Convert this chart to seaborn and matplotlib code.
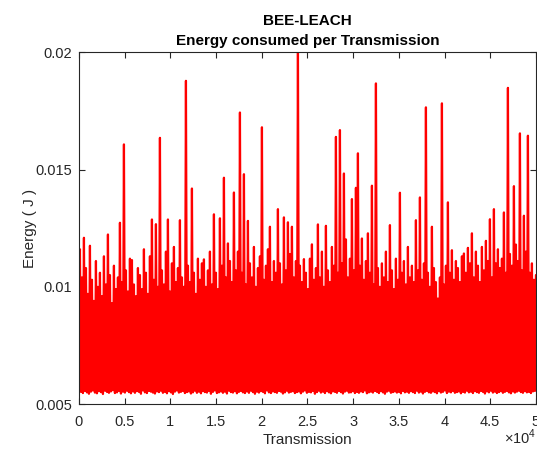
"""BEE-LEACH: energy consumed per transmission (MATLAB-style line plot)."""

import matplotlib

matplotlib.use("Agg")
import matplotlib.pyplot as plt
import numpy as np
import pandas as pd
import seaborn as sns

# Peak (upper) energy of each tooth in the trace, read left to right (J)
peak_energy = [
    0.0116, 0.0104, 0.01209, 0.0108, 0.0097, 0.01175, 0.0103, 0.0094, 0.0111, 0.0100,
    0.0106, 0.0096, 0.0113, 0.0101, 0.01223, 0.0105, 0.0093, 0.0109, 0.0099, 0.0104,
    0.01273, 0.0102, 0.01607, 0.0107, 0.0098, 0.0112, 0.01114, 0.0101, 0.0096, 0.0108,
    0.0105, 0.0099, 0.0116, 0.0106, 0.0097, 0.0113, 0.01287, 0.0103, 0.01267, 0.0100,
    0.01635, 0.0107, 0.0101, 0.0115, 0.01287, 0.0098, 0.0110, 0.0117, 0.0102, 0.0108,
    0.01284, 0.0104, 0.0100, 0.01878, 0.0109, 0.0102, 0.01419, 0.0106, 0.0097, 0.0112,
    0.0103, 0.0110, 0.01117, 0.0100, 0.0107, 0.0115, 0.0101, 0.01309, 0.0106, 0.0099,
    0.01292, 0.0109, 0.01465, 0.0104, 0.01185, 0.0111, 0.0102, 0.01402, 0.0107, 0.0115,
    0.01743, 0.0106, 0.0148, 0.0101, 0.01281, 0.0110, 0.0104, 0.0117, 0.0100, 0.0108,
    0.0113, 0.0168, 0.0103, 0.0109, 0.0116, 0.01256, 0.0102, 0.0111, 0.0106, 0.01331,
    0.0110, 0.0101, 0.01296, 0.0107, 0.01275, 0.0114, 0.01256, 0.0104, 0.0111, 0.0202,
    0.0109, 0.0102, 0.01118, 0.0106, 0.0099, 0.0112, 0.01181, 0.0103, 0.0108, 0.01266,
    0.0104, 0.0115, 0.0100, 0.0126, 0.0107, 0.0102, 0.0117, 0.0109, 0.01639, 0.0106,
    0.01668, 0.0110, 0.01483, 0.01202, 0.0104, 0.0112, 0.01374, 0.0107, 0.01422, 0.01569,
    0.0109, 0.01206, 0.0103, 0.0111, 0.01228, 0.0106, 0.01431, 0.0101, 0.01867, 0.0108,
    0.0100, 0.0110, 0.0104, 0.0115, 0.0102, 0.01263, 0.0107, 0.0099, 0.0112, 0.0103,
    0.01401, 0.0106, 0.0111, 0.0101, 0.0117, 0.0104, 0.0109, 0.0102, 0.01284, 0.0107,
    0.01381, 0.0103, 0.0110, 0.01765, 0.0106, 0.0100, 0.01256, 0.0108, 0.0102, 0.0095,
    0.0104, 0.01782, 0.0101, 0.0109, 0.0136, 0.0106, 0.01156, 0.0103, 0.0111, 0.0108,
    0.0102, 0.0113, 0.01142, 0.0106, 0.01166, 0.0110, 0.01228, 0.0104, 0.0115, 0.0109,
    0.0102, 0.0117, 0.0107, 0.01196, 0.0111, 0.01288, 0.0104, 0.01331, 0.0110, 0.0116,
    0.0108, 0.0112, 0.01317, 0.0106, 0.01848, 0.0114, 0.0109, 0.01429, 0.0118, 0.0111,
    0.01654, 0.0107, 0.01303, 0.0115, 0.01644, 0.0106, 0.0110, 0.0103, 0.0105,
]

# Trough (lower) energy between the teeth (J)
trough_energy = [
    0.00800, 0.00552, 0.00547, 0.00556, 0.00550, 0.00544, 0.00553, 0.00558, 0.00549, 0.00546,
    0.00555, 0.00551, 0.00543, 0.00557, 0.00552, 0.00548, 0.00554, 0.00559, 0.00547, 0.00550,
    0.00556, 0.00545, 0.00553, 0.00549, 0.00557, 0.00551, 0.00546, 0.00554, 0.00548, 0.00555,
    0.00552, 0.00544, 0.00558, 0.00550, 0.00547, 0.00556, 0.00553, 0.00549, 0.00545, 0.00554,
    0.00551, 0.00557, 0.00548, 0.00552, 0.00546, 0.00555, 0.00550, 0.00543, 0.00553, 0.00558,
    0.00549, 0.00552, 0.00556, 0.00547, 0.00551, 0.00554, 0.00545, 0.00550, 0.00557, 0.00548,
    0.00553, 0.00546, 0.00555, 0.00551, 0.00549, 0.00556, 0.00544, 0.00552, 0.00558, 0.00547,
    0.00550, 0.00554, 0.00548, 0.00553, 0.00545, 0.00557, 0.00551, 0.00549, 0.00555, 0.00546,
    0.00552, 0.00556, 0.00550, 0.00547, 0.00554, 0.00548, 0.00557, 0.00551, 0.00544, 0.00553,
    0.00549, 0.00555, 0.00552, 0.00546, 0.00558, 0.00550, 0.00547, 0.00554, 0.00551, 0.00548,
    0.00556, 0.00553, 0.00545, 0.00550, 0.00557, 0.00549, 0.00552, 0.00555, 0.00547, 0.00551,
    0.00554, 0.00546, 0.00553, 0.00558, 0.00548, 0.00552, 0.00550, 0.00556, 0.00544, 0.00551,
    0.00557, 0.00549, 0.00553, 0.00547, 0.00555, 0.00550, 0.00546, 0.00554, 0.00552, 0.00548,
    0.00556, 0.00551, 0.00545, 0.00553, 0.00557, 0.00549, 0.00550, 0.00555, 0.00547, 0.00552,
    0.00548, 0.00554, 0.00551, 0.00558, 0.00546, 0.00550, 0.00553, 0.00549, 0.00556, 0.00552,
    0.00547, 0.00555, 0.00550, 0.00544, 0.00553, 0.00557, 0.00548, 0.00551, 0.00554, 0.00549,
    0.00552, 0.00546, 0.00556, 0.00550, 0.00553, 0.00548, 0.00555, 0.00551, 0.00547, 0.00557,
    0.00549, 0.00553, 0.00545, 0.00552, 0.00556, 0.00550, 0.00548, 0.00554, 0.00551, 0.00546,
    0.00555, 0.00549, 0.00552, 0.00558, 0.00547, 0.00553, 0.00550, 0.00556, 0.00548, 0.00551,
    0.00554, 0.00546, 0.00552, 0.00549, 0.00557, 0.00550, 0.00553, 0.00547, 0.00555, 0.00551,
    0.00548, 0.00556, 0.00552, 0.00545, 0.00554, 0.00550, 0.00557, 0.00549, 0.00553, 0.00547,
    0.00551, 0.00555, 0.00548, 0.00552, 0.00556, 0.00550, 0.00546, 0.00554, 0.00549, 0.00553,
    0.00557, 0.00551, 0.00548, 0.00555, 0.00550, 0.00552, 0.00547, 0.00554, 0.00556,
]

n_transmissions = 50000
x_ticks = [0, 5000, 10000, 15000, 20000, 25000, 30000, 35000, 40000, 45000, 50000]
x_tick_labels = ["0", "0.5", "1", "1.5", "2", "2.5", "3", "3.5", "4", "4.5", "5"]
y_ticks = [0.005, 0.01, 0.015, 0.02]
y_tick_labels = ["0.005", "0.01", "0.015", "0.02"]

AXIS_GREY = "#262626"

# trough, peak, trough, peak ... along the transmission index
energy = np.column_stack([trough_energy, peak_energy]).ravel()
df = pd.DataFrame(
    {
        "transmission": np.linspace(0, n_transmissions, len(energy)),
        "energy": energy,
    }
)

sns.set_style("white")
plt.rcParams["font.family"] = ["Liberation Sans", "DejaVu Sans"]
plt.rcParams["mathtext.fontset"] = "custom"
plt.rcParams["mathtext.rm"] = "Liberation Sans"

fig = plt.figure(figsize=(5.37, 4.5), dpi=100)
ax = fig.add_axes([0.147, 0.102, 0.851, 0.782])

sns.lineplot(
    data=df,
    x="transmission",
    y="energy",
    color="#ff0000",
    linewidth=1.6,
    estimator=None,
    sort=False,
    ax=ax,
)

ax.set_xlim(0, n_transmissions)
ax.set_ylim(0.005, 0.02)
ax.set_xticks(x_ticks)
ax.set_xticklabels(x_tick_labels)
ax.set_yticks(y_ticks)
ax.set_yticklabels(y_tick_labels)

for spine in ax.spines.values():
    spine.set_visible(True)
    spine.set_color(AXIS_GREY)
    spine.set_linewidth(0.8)
ax.tick_params(
    direction="in",
    length=4,
    width=0.8,
    colors=AXIS_GREY,
    labelsize=10.5,
    top=True,
    right=True,
    bottom=True,
    left=True,
)
ax.tick_params(axis="x", pad=8)
ax.tick_params(axis="y", pad=5)

ax.set_xlabel("Transmission", fontsize=11, color=AXIS_GREY, labelpad=3)
ax.set_ylabel("Energy ( J )", fontsize=11, color=AXIS_GREY, labelpad=-1)
ax.set_title(
    "BEE-LEACH\nEnergy consumed per Transmission",
    fontsize=11,
    fontweight="bold",
    color="black",
    pad=5,
    linespacing=1.6,
)
ax.text(
    1.0,
    -0.094,
    r"$\times10^{4}$",
    transform=ax.transAxes,
    ha="right",
    va="center",
    fontsize=10.5,
    color=AXIS_GREY,
)

fig.savefig("out.png", dpi=100)
plt.close(fig)
